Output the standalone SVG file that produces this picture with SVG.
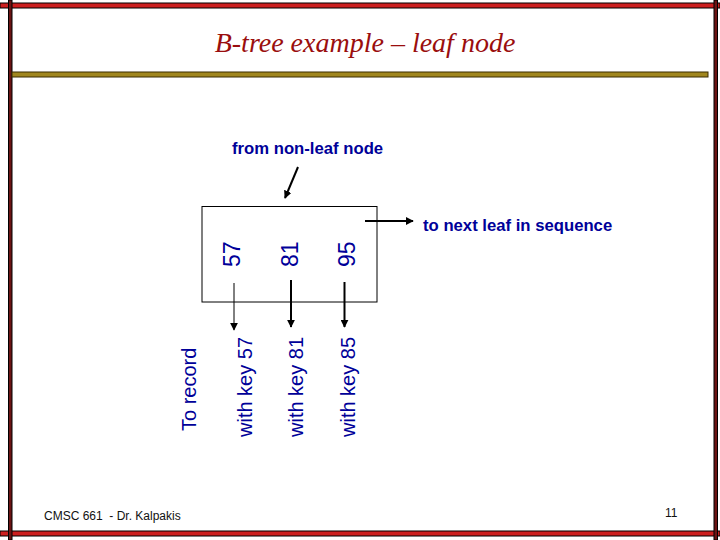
<svg xmlns="http://www.w3.org/2000/svg" width="720" height="540" viewBox="0 0 720 540">
<defs>
<style>
.lbl{font-family:"Liberation Sans",Arial,sans-serif;fill:#000099}
.b{font-weight:bold;font-size:16.7px}
.rot{font-size:20px}
.key{font-size:23px}
.con{stroke:#000;fill:none}
</style>
<marker id="ah" viewBox="0 0 10 10" refX="9" refY="5" markerWidth="8" markerHeight="8" markerUnits="userSpaceOnUse" orient="auto">
<path d="M0,0 L10,5 L0,10 Z" fill="#000"/>
</marker>
</defs>
<rect width="720" height="540" fill="#fff"/>
<g id="frame">
<rect x="0" y="3" width="720" height="5" fill="#cc1f1f" stroke="#000" stroke-width="1"/>
<rect x="0" y="531" width="720" height="5" fill="#cc1f1f" stroke="#000" stroke-width="1"/>
<rect x="8.5" y="0" width="3.5" height="540" fill="#6b1414" stroke="#000" stroke-width="1"/>
<rect x="714" y="0" width="3.5" height="540" fill="#6b1414" stroke="#000" stroke-width="1"/>
<rect x="12" y="72" width="696" height="5" fill="#a0861e" stroke="#3a2c00" stroke-width="1"/>
</g>
<text x="365" y="52" text-anchor="middle" font-family="'Liberation Serif','Times New Roman',serif" font-style="italic" font-size="28" fill="#9a0e0e">B-tree example – leaf node</text>
<g id="from-label"><text class="lbl b" x="232" y="154">from non-leaf node</text></g>
<g id="leaf-node">
<rect x="202" y="206.5" width="175" height="95.5" fill="none" stroke="#000" stroke-width="1"/>
<text class="lbl key" transform="translate(240,267) rotate(-90)">57</text>
<text class="lbl key" transform="translate(298,267) rotate(-90)">81</text>
<text class="lbl key" transform="translate(355,267) rotate(-90)">95</text>
</g>
<g id="next-label"><text class="lbl b" x="423" y="231">to next leaf in sequence</text></g>
<g id="record-labels">
<text class="lbl rot" transform="translate(196,431) rotate(-90)">To record</text>
<text class="lbl rot" transform="translate(252,437) rotate(-90)">with key 57</text>
<text class="lbl rot" transform="translate(303,437) rotate(-90)">with key 81</text>
<text class="lbl rot" transform="translate(355,437) rotate(-90)">with key 85</text>
</g>
<g id="connectors">
<line class="con" x1="298" y1="167" x2="285" y2="198" stroke-width="2" marker-end="url(#ah)"/>
<line class="con" x1="365" y1="221" x2="413" y2="221" stroke-width="2" marker-end="url(#ah)"/>
<line class="con" x1="234" y1="283" x2="234" y2="330" stroke-width="1" marker-end="url(#ah)"/>
<line class="con" x1="291" y1="280" x2="291" y2="327" stroke-width="2" marker-end="url(#ah)"/>
<line class="con" x1="344.5" y1="282" x2="344.5" y2="327" stroke-width="2" marker-end="url(#ah)"/>
</g>
<text x="44" y="520" font-family="'Liberation Sans',Arial,sans-serif" font-size="12" fill="#111">CMSC 661&#160; - Dr. Kalpakis</text>
<text x="665" y="517" font-family="'Liberation Sans',Arial,sans-serif" font-size="12" fill="#111">11</text>
</svg>
